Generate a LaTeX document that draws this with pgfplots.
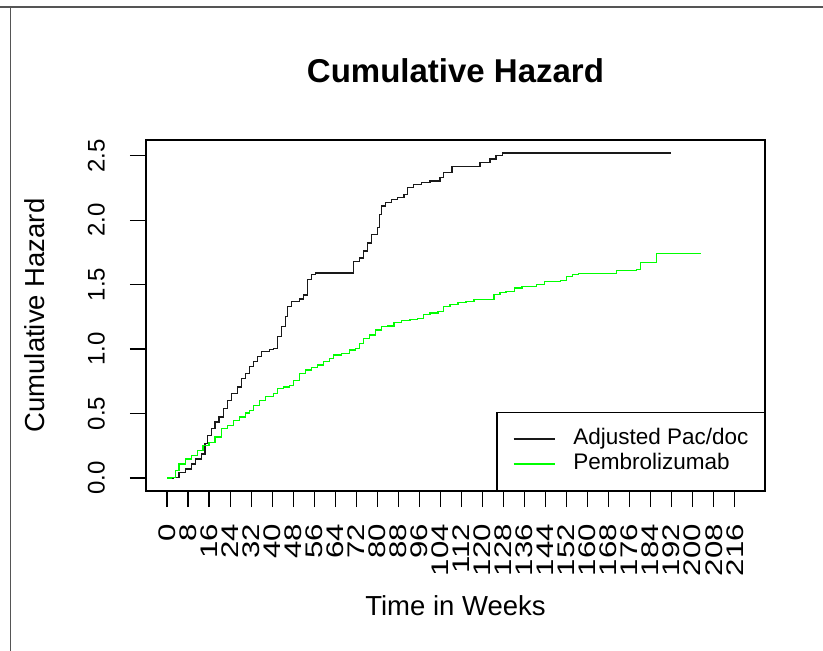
\documentclass[border=0pt]{standalone}
\usepackage{fontspec}
\setmainfont{Liberation Sans}
\usepackage{graphicx}
\usepackage{pgfplots}
\usepackage{pgfplotstable}
\pgfplotsset{compat=1.18}

\pgfplotstableread{
x y
0 0
2.3 0.005
4.6 0.044
6.9 0.07
9.2 0.109
10.7 0.148
13.0 0.187
14.5 0.265
15.3 0.33
16.8 0.382
18.3 0.434
19.8 0.473
21.4 0.538
22.9 0.603
24.4 0.655
26.7 0.707
28.2 0.772
29.8 0.811
31.3 0.863
32.8 0.902
34.4 0.941
35.9 0.98
38.9 0.998
40.5 1.006
42.0 1.097
43.5 1.175
45.0 1.253
45.8 1.33
47.3 1.37
50.4 1.388
51.9 1.42
53.4 1.538
55.0 1.577
56.5 1.59
71.0 1.68
73.3 1.707
74.8 1.76
76.3 1.824
77.9 1.889
80.2 1.941
80.9 2.045
81.7 2.11
83.2 2.136
85.5 2.162
87.8 2.175
90.1 2.2
91.6 2.253
93.9 2.279
96.9 2.292
100.0 2.305
103.8 2.331
105.3 2.37
108.4 2.417
119.1 2.448
122.9 2.474
125.2 2.5
127.5 2.521
191.9 2.521
}\pacdoc

\pgfplotstableread{
x y
0 0
1.5 0.005
3.1 0.057
4.6 0.109
6.9 0.148
9.2 0.174
11.5 0.213
13.7 0.252
16.0 0.278
18.3 0.317
20.6 0.382
22.9 0.408
25.2 0.447
27.5 0.473
29.8 0.504
31.3 0.525
32.8 0.564
35.1 0.603
37.4 0.634
40.5 0.655
42.0 0.694
44.3 0.707
46.6 0.72
48.1 0.759
50.4 0.811
52.7 0.837
55.0 0.858
57.3 0.876
59.5 0.902
61.8 0.928
63.4 0.954
66.4 0.967
69.5 0.993
71.8 1.006
73.3 1.045
74.8 1.084
77.1 1.11
79.4 1.149
81.7 1.175
84.0 1.18
86.3 1.206
89.3 1.222
92.4 1.232
95.4 1.24
97.7 1.266
100.0 1.279
103.1 1.292
105.3 1.331
107.6 1.344
110.7 1.362
113.7 1.37
116.8 1.383
124.4 1.422
126.7 1.44
129.0 1.448
132.1 1.474
135.1 1.487
140.5 1.5
143.5 1.526
149.6 1.534
151.9 1.565
154.2 1.578
156.5 1.586
170.9 1.61
178.6 1.618
180.2 1.669
186.3 1.742
203.1 1.742
}\pembro

\definecolor{rgreen}{RGB}{0,255,0}
\definecolor{framegray}{RGB}{85,85,85}

\begin{document}
\begin{tikzpicture}[x=1pt,y=1pt]
\useasboundingbox (0,0) rectangle (823,651);
\fill[white] (0,0) rectangle (823,651);
\draw[framegray, line width=1.8pt] (0,644) -- (823,644);
\draw[framegray, line width=1.2pt] (10.5,0) -- (10.5,644.9);
\begin{axis}[
  at={(146pt,160pt)}, anchor=south west,
  scale only axis,
  width=619pt, height=351pt,
  xmin=-8, xmax=227.5,
  ymin=-0.1008, ymax=2.622,
  xtick={0,8,...,216},
  ytick={0,0.5,1,1.5,2,2.5},
  xtick pos=bottom, ytick pos=left,
  tick align=outside,
  major tick length=16pt,
  axis line style={black, line width=1.2pt},
  every tick/.style={black, line width=1.2pt},
  /pgf/number format/assume math mode=true,
  ticklabel style={font=\fontsize{24}{28}\selectfont, inner sep=0pt},
  yticklabel style={rotate=90, anchor=south, /pgf/number format/.cd, fixed, fixed zerofill, precision=1},
  xticklabel={\rotatebox{90}{\scalebox{1.3}[1]{\pgfmathprintnumber{\tick}}}},
  xticklabel style={anchor=north},
  xticklabel shift=17pt,
  yticklabel shift=25pt,
  title={Cumulative Hazard},
  title style={font=\fontsize{33}{40}\selectfont\bfseries, at={(axis description cs:0.5,1.148)}, anchor=base, inner sep=0pt},
  xlabel={Time in Weeks},
  xlabel style={font=\fontsize{27.5}{33}\selectfont, at={(axis description cs:0.5,-0.3533)}, anchor=base, inner sep=0pt},
  ylabel={Cumulative Hazard},
  ylabel style={font=\fontsize{27.5}{33}\selectfont, at={(axis description cs:-0.1632,0.5)}, anchor=south, inner sep=0pt},
  legend style={at={(1,0)}, anchor=south east, draw=black, line width=1.2pt,
    font=\fontsize{22.5}{27}\selectfont, fill=white,
    inner xsep=16pt, inner ysep=16pt, row sep=4pt,
    nodes={inner sep=0pt, text height=16pt, text depth=5pt},
    /tikz/every odd column/.append style={column sep=18pt}},
  legend cell align=left,
  legend image code/.code={\draw[#1] (0pt,0pt) -- (41pt,0pt);},
]
\addplot[const plot, black!90, line width=1.3pt] table[x=x,y=y] {\pacdoc};
\addlegendentry{Adjusted Pac/doc}
\addplot[const plot, rgreen, line width=1.3pt] table[x=x,y=y] {\pembro};
\addlegendentry{Pembrolizumab}
\end{axis}
\end{tikzpicture}
\end{document}
